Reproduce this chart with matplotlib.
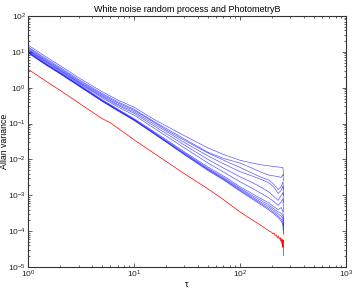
import numpy as np
import matplotlib
matplotlib.use('Agg')
import matplotlib.pyplot as plt
from matplotlib.ticker import LogLocator

plt.rcParams['font.family'] = ['Liberation Sans', 'DejaVu Sans']
plt.rcParams['mathtext.default'] = 'regular'

# cluster sizes (tau)
tau = [1, 1.5, 2, 3, 5, 7, 10, 15, 20, 30, 50, 70, 100, 130, 160, 190, 210, 230, 245, 255, 258]

# Allan variance, stored as log10 values
blue_logs = [
    [1.19, 0.85, 0.62, 0.28, -0.11, -0.34, -0.54, -0.86, -1.06, -1.34, -1.68, -1.86, -2.02, -2.10, -2.15, -2.18, -2.20, -2.21, -2.22, -2.23, -2.45],
    [1.14, 0.80, 0.57, 0.23, -0.16, -0.39, -0.60, -0.92, -1.13, -1.43, -1.80, -1.97, -2.10, -2.24, -2.36, -2.44, -2.46, -2.48, -2.50, -2.42, -2.60],
    [1.11, 0.77, 0.54, 0.20, -0.19, -0.42, -0.63, -0.94, -1.17, -1.47, -1.82, -2.02, -2.22, -2.38, -2.50, -2.58, -2.70, -2.84, -2.76, -2.62, -2.85],
    [1.08, 0.74, 0.51, 0.17, -0.22, -0.46, -0.67, -0.99, -1.21, -1.53, -1.90, -2.12, -2.34, -2.46, -2.56, -2.66, -2.78, -2.95, -2.86, -2.74, -3.00],
    [1.06, 0.72, 0.49, 0.15, -0.25, -0.49, -0.71, -1.04, -1.27, -1.60, -2.00, -2.24, -2.48, -2.64, -2.78, -2.92, -3.04, -3.14, -3.00, -2.92, -3.20],
    [1.04, 0.70, 0.47, 0.13, -0.28, -0.53, -0.76, -1.10, -1.34, -1.68, -2.10, -2.35, -2.62, -2.80, -2.95, -3.08, -3.18, -3.28, -3.18, -3.10, -3.45],
    [1.02, 0.67, 0.44, 0.10, -0.33, -0.59, -0.86, -1.20, -1.44, -1.79, -2.21, -2.46, -2.76, -2.95, -3.10, -3.22, -3.32, -3.40, -3.34, -3.45, -3.70],
    [1.00, 0.65, 0.42, 0.08, -0.35, -0.61, -0.88, -1.22, -1.47, -1.82, -2.25, -2.50, -2.80, -3.00, -3.15, -3.28, -3.38, -3.46, -3.50, -3.58, -3.85],
    [0.99, 0.64, 0.41, 0.07, -0.36, -0.62, -0.89, -1.24, -1.49, -1.84, -2.27, -2.53, -2.83, -3.04, -3.20, -3.33, -3.43, -3.52, -3.58, -3.66, -3.95],
    [0.98, 0.63, 0.40, 0.06, -0.37, -0.63, -0.90, -1.25, -1.50, -1.86, -2.29, -2.55, -2.86, -3.07, -3.24, -3.38, -3.48, -3.58, -3.66, -3.76, -4.05],
    [0.97, 0.62, 0.39, 0.05, -0.38, -0.64, -0.91, -1.26, -1.51, -1.87, -2.31, -2.57, -2.88, -3.10, -3.27, -3.42, -3.52, -3.62, -3.72, -3.82, -4.10],
]

# red reference series, with its noisy tail
red_tau = [1, 1.5, 2, 3, 5, 6, 7, 10, 15, 20, 30, 50, 70, 100, 130, 160, 190,
           200, 205, 210, 215, 220, 225, 230, 235, 240, 243, 246, 249, 252, 254, 256, 258]
red_log = [0.52, 0.17, -0.07, -0.42, -0.86, -0.98, -1.12, -1.45, -1.80, -2.05, -2.40, -2.82, -3.12,
           -3.46, -3.68, -3.85, -4.00,
           -4.03, -4.08, -4.05, -4.12, -4.10, -4.18, -4.13, -4.22, -4.17, -4.28, -4.20, -4.35,
           -4.22, -4.45, -4.25, -4.68]

fig = plt.figure(figsize=(3.54, 2.90), dpi=100)
ax = fig.add_axes([0.079, 0.079, 0.898, 0.866])

for bl in blue_logs:
    ax.plot(tau, 10 ** np.array(bl), color='#0000ff', lw=0.5, alpha=0.65)
ax.plot(red_tau, 10 ** np.array(red_log), color='#ff0000', lw=0.5)

ax.set_xscale('log')
ax.set_yscale('log')
ax.set_xlim(1, 1000)
ax.set_ylim(1e-5, 1e2)

ax.xaxis.set_major_locator(LogLocator(base=10, numticks=10))
ax.yaxis.set_major_locator(LogLocator(base=10, numticks=10))
ax.xaxis.set_minor_locator(LogLocator(base=10, subs=np.arange(2, 10), numticks=20))
ax.yaxis.set_minor_locator(LogLocator(base=10, subs=np.arange(2, 10), numticks=20))

ax.tick_params(which='both', direction='in', top=True, right=True, labelsize=6,
               colors='#222222')
ax.tick_params(axis='x', which='both', pad=1)
ax.tick_params(axis='y', which='both', pad=1.5)
ax.tick_params(which='major', length=3, width=0.5)
ax.tick_params(which='minor', length=1.5, width=0.5)
for s in ax.spines.values():
    s.set_linewidth(0.8)
    s.set_color('#333333')

ax.set_title('White noise random process and PhotometryB', fontsize=6.5, pad=3)
ax.set_xlabel(r'$\tau$', fontsize=6.5)
ax.set_ylabel('Allan variance', fontsize=6.3)
ax.xaxis.set_label_coords(0.5, -0.05)
ax.yaxis.set_label_coords(-0.061, 0.5)

fig.savefig('out.png', dpi=100)
